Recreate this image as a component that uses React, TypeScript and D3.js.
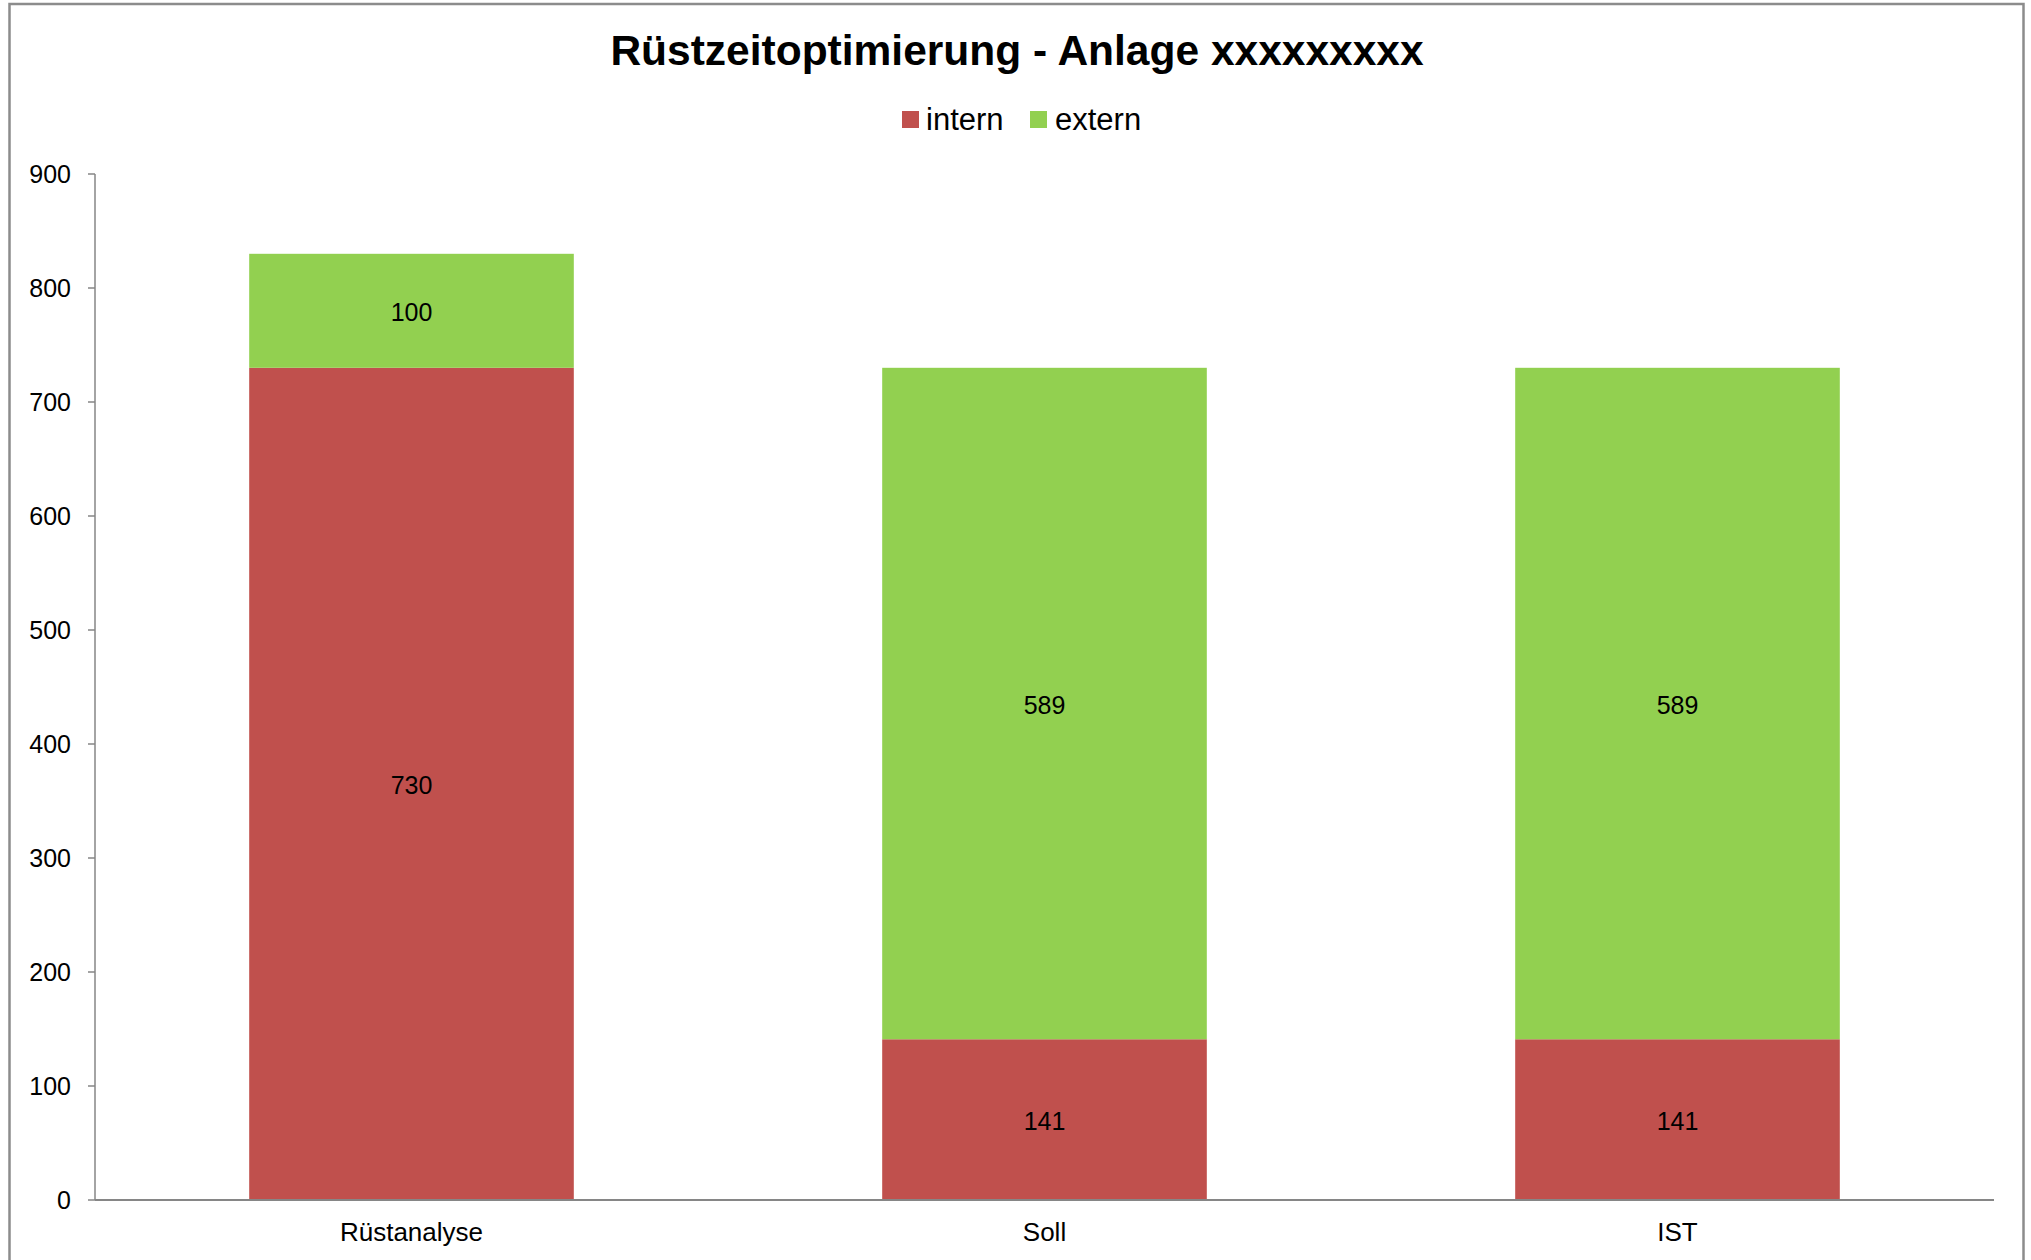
import * as d3 from 'd3';
import React from 'react';

const categories = ['Rüstanalyse', 'Soll', 'IST'];
const internValues = [730, 141, 141];
const externValues = [100, 589, 589];
const seriesNames = ['intern', 'extern'];
const seriesColors = ['#C0504D', '#92D050'];
const yTicks = [0, 100, 200, 300, 400, 500, 600, 700, 800, 900];

const W = 2031;
const H = 1260;
const margin = { top: 174, right: 37, bottom: 60, left: 95 };
const font = '"Liberation Sans", Arial, sans-serif';
const axisColor = '#868686';

const App = () => {
  const rows = categories.map((c, i) => ({ cat: c, intern: internValues[i], extern: externValues[i] }));
  const stacked = d3.stack<any>().keys(seriesNames)(rows);

  const x = d3
    .scaleBand()
    .domain(categories)
    .range([margin.left, W - margin.right])
    .paddingInner(0.95 / 1.95)
    .paddingOuter(0.95 / 3.9);

  const y = d3
    .scaleLinear()
    .domain([0, 900])
    .range([H - margin.bottom, margin.top]);

  const y0 = y(0);

  return (
    <svg width={W} height={H} style={{ position: 'absolute', left: 0, top: 0, display: 'block', background: '#fff' }} fontFamily={font}>
      <rect x={9.5} y={4} width={2014} height={1280} fill="#fff" stroke="#8c8c8c" strokeWidth={2.5} />

      <text x={1017} y={65} textAnchor="middle" fontSize={42.5} fontWeight="bold" fill="#000">
        Rüstzeitoptimierung - Anlage xxxxxxxxx
      </text>

      {/* legend */}
      <g>
        <rect x={902} y={111} width={17} height={17} fill={seriesColors[0]} />
        <text x={926} y={130} fontSize={31} fill="#000">intern</text>
        <rect x={1030} y={111} width={17} height={17} fill={seriesColors[1]} />
        <text x={1055} y={130} fontSize={31} fill="#000">extern</text>
      </g>

      {/* bars */}
      {stacked.map((s, si) =>
        s.map((d, i) => (
          <rect
            key={`${si}-${i}`}
            x={x(categories[i])}
            y={y(d[1])}
            width={x.bandwidth()}
            height={y(d[0]) - y(d[1])}
            fill={seriesColors[si]}
          />
        ))
      )}

      {/* data labels */}
      {stacked.map((s, si) =>
        s.map((d, i) => (
          <text
            key={`l-${si}-${i}`}
            x={(x(categories[i]) ?? 0) + x.bandwidth() / 2}
            y={(y(d[0]) + y(d[1])) / 2}
            dy="0.42em"
            textAnchor="middle"
            fontSize={25}
            fill="#000"
          >
            {d[1] - d[0]}
          </text>
        ))
      )}

      {/* y axis */}
      <line x1={margin.left} x2={margin.left} y1={y(900)} y2={y0} stroke={axisColor} strokeWidth={1.5} />
      {yTicks.map((t) => (
        <g key={t}>
          <line x1={margin.left - 7} x2={margin.left} y1={y(t)} y2={y(t)} stroke={axisColor} strokeWidth={1.5} />
          <text x={71} y={y(t)} dy="0.36em" textAnchor="end" fontSize={25} fill="#000">
            {t}
          </text>
        </g>
      ))}

      {/* x axis */}
      <line x1={margin.left} x2={W - margin.right} y1={y0} y2={y0} stroke={axisColor} strokeWidth={2} />
      {categories.map((c) => (
        <text key={c} x={(x(c) ?? 0) + x.bandwidth() / 2} y={1241} textAnchor="middle" fontSize={26} fill="#000">
          {c}
        </text>
      ))}
    </svg>
  );
};

export default App;
